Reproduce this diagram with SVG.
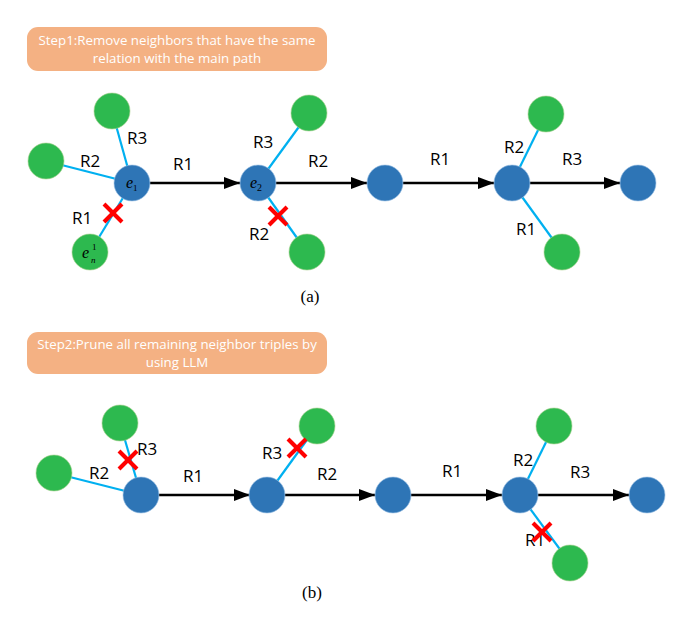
<svg xmlns="http://www.w3.org/2000/svg" width="693" height="632" viewBox="0 0 693 632">
<style>
.box{fill:#F4B183;}
.bt{font-family:"Open Sans","DejaVu Sans",sans-serif;font-size:13.3px;fill:#fff;text-anchor:middle;}
.lbl{font-family:"Open Sans","DejaVu Sans",sans-serif;font-size:17px;fill:#000;text-anchor:middle;}
.cap{font-family:"Liberation Serif",serif;font-size:17px;fill:#000;text-anchor:middle;}
.ent{font-family:"Liberation Serif",serif;font-style:italic;fill:#000;}
.main{fill:#2E75B6;stroke:#9DC3E6;stroke-width:0.6;}
.nb{fill:#2DB94F;stroke:#A9D18E;stroke-width:0.6;}
.edge{stroke:#000;stroke-width:2.5;fill:none;marker-end:url(#ah);}
.rel{stroke:#00B0F0;stroke-width:2.2;}
.x{stroke:#FF0000;stroke-width:4;}
</style>
<defs>
<marker id="ah" markerUnits="userSpaceOnUse" markerWidth="16" markerHeight="12" refX="16" refY="6" orient="auto">
<path d="M0,0 L16,6 L0,12 z" fill="#000"/>
</marker>
<g id="cross"><line class="x" x1="-9" y1="-9" x2="9" y2="9"/><line class="x" x1="-9" y1="9" x2="9" y2="-9"/></g>
</defs>
<rect width="693" height="632" fill="#fff"/>

<g id="step1">
<rect class="box" x="27" y="27" width="300" height="44" rx="11"/>
<text class="bt" x="177" y="45">Step1:Remove neighbors that have the same</text>
<text class="bt" x="177" y="63">relation with the main path</text>
</g>
<g id="step2">
<rect class="box" x="27" y="332" width="300" height="42" rx="11"/>
<text class="bt" x="177" y="349">Step2:Prune all remaining neighbor triples by</text>
<text class="bt" x="177" y="367">using LLM</text>
</g>

<g id="connectors">
<line class="rel" x1="132" y1="183" x2="112" y2="111"/>
<line class="rel" x1="132" y1="183" x2="46" y2="161"/>
<line class="rel" x1="132" y1="183" x2="90" y2="252"/>
<line class="rel" x1="258" y1="183" x2="309" y2="113"/>
<line class="rel" x1="258" y1="183" x2="307" y2="252"/>
<line class="rel" x1="512" y1="183" x2="546" y2="114"/>
<line class="rel" x1="512" y1="183" x2="562" y2="252"/>
<line class="edge" x1="150" y1="183" x2="240" y2="183"/>
<line class="edge" x1="276" y1="183" x2="367" y2="183"/>
<line class="edge" x1="403" y1="183" x2="494" y2="183"/>
<line class="edge" x1="530" y1="183" x2="620" y2="183"/>
<line class="rel" x1="141" y1="495" x2="120" y2="423"/>
<line class="rel" x1="141" y1="495" x2="54" y2="473"/>
<line class="rel" x1="267" y1="495" x2="317" y2="426"/>
<line class="rel" x1="520" y1="495" x2="554" y2="426"/>
<line class="rel" x1="520" y1="495" x2="570" y2="563"/>
<line class="edge" x1="159" y1="495" x2="250" y2="495"/>
<line class="edge" x1="285" y1="495" x2="375" y2="495"/>
<line class="edge" x1="411" y1="495" x2="502" y2="495"/>
<line class="edge" x1="538" y1="495" x2="629" y2="495"/>
</g>

<g id="a_e1"><circle class="main" cx="132" cy="183" r="18"/><text class="ent" x="126" y="188" font-size="16">e<tspan font-size="9" dy="3" font-style="normal">1</tspan></text></g>
<g id="a_e2"><circle class="main" cx="258" cy="183" r="18"/><text class="ent" x="250" y="188" font-size="16">e<tspan font-size="10" dy="3" font-style="normal">2</tspan></text></g>
<g id="a_m3"><circle class="main" cx="385" cy="183" r="18"/></g>
<g id="a_m4"><circle class="main" cx="512" cy="183" r="18"/></g>
<g id="a_m5"><circle class="main" cx="638" cy="183" r="18"/></g>
<g id="a_n1"><circle class="nb" cx="112" cy="111" r="18"/></g>
<g id="a_n2"><circle class="nb" cx="46" cy="161" r="18"/></g>
<g id="a_n3"><circle class="nb" cx="90" cy="252" r="18"/><text class="ent" x="82" y="258" font-size="16">e</text><text class="ent" x="91" y="263" font-size="9">n</text><text font-family="Liberation Serif,serif" x="92" y="250" font-size="9">1</text></g>
<g id="a_n4"><circle class="nb" cx="309" cy="113" r="18"/></g>
<g id="a_n5"><circle class="nb" cx="307" cy="252" r="18"/></g>
<g id="a_n6"><circle class="nb" cx="546" cy="114" r="18"/></g>
<g id="a_n7"><circle class="nb" cx="562" cy="252" r="18"/></g>

<g id="b_m1"><circle class="main" cx="141" cy="495" r="18"/></g>
<g id="b_m2"><circle class="main" cx="267" cy="495" r="18"/></g>
<g id="b_m3"><circle class="main" cx="393" cy="495" r="18"/></g>
<g id="b_m4"><circle class="main" cx="520" cy="495" r="18"/></g>
<g id="b_m5"><circle class="main" cx="647" cy="495" r="18"/></g>
<g id="b_n1"><circle class="nb" cx="120" cy="423" r="18"/></g>
<g id="b_n2"><circle class="nb" cx="54" cy="473" r="18"/></g>
<g id="b_n3"><circle class="nb" cx="317" cy="426" r="18"/></g>
<g id="b_n4"><circle class="nb" cx="554" cy="426" r="18"/></g>
<g id="b_n5"><circle class="nb" cx="570" cy="563" r="18"/></g>

<g id="labels">
<text class="lbl" x="137" y="144">R3</text>
<text class="lbl" x="90" y="167">R2</text>
<text class="lbl" x="183" y="170">R1</text>
<text class="lbl" x="82" y="224">R1</text>
<text class="lbl" x="263" y="148">R3</text>
<text class="lbl" x="318" y="167">R2</text>
<text class="lbl" x="259" y="240">R2</text>
<text class="lbl" x="440" y="165">R1</text>
<text class="lbl" x="514" y="153">R2</text>
<text class="lbl" x="572" y="165">R3</text>
<text class="lbl" x="526" y="235">R1</text>

<text class="lbl" x="147" y="455">R3</text>
<text class="lbl" x="99" y="479">R2</text>
<text class="lbl" x="193" y="482">R1</text>
<text class="lbl" x="272" y="459">R3</text>
<text class="lbl" x="327" y="480">R2</text>
<text class="lbl" x="452" y="477">R1</text>
<text class="lbl" x="523" y="466">R2</text>
<text class="lbl" x="580" y="478">R3</text>
<text class="lbl" x="535" y="546">R1</text>

<text class="cap" x="310" y="302">(a)</text>
<text class="cap" x="312" y="598">(b)</text>
</g>

<g id="crosses">
<use href="#cross" x="113" y="213"/>
<use href="#cross" x="278" y="216"/>
<use href="#cross" x="128" y="460"/>
<use href="#cross" x="297" y="448"/>
<use href="#cross" x="542" y="532"/>
</g>
</svg>
